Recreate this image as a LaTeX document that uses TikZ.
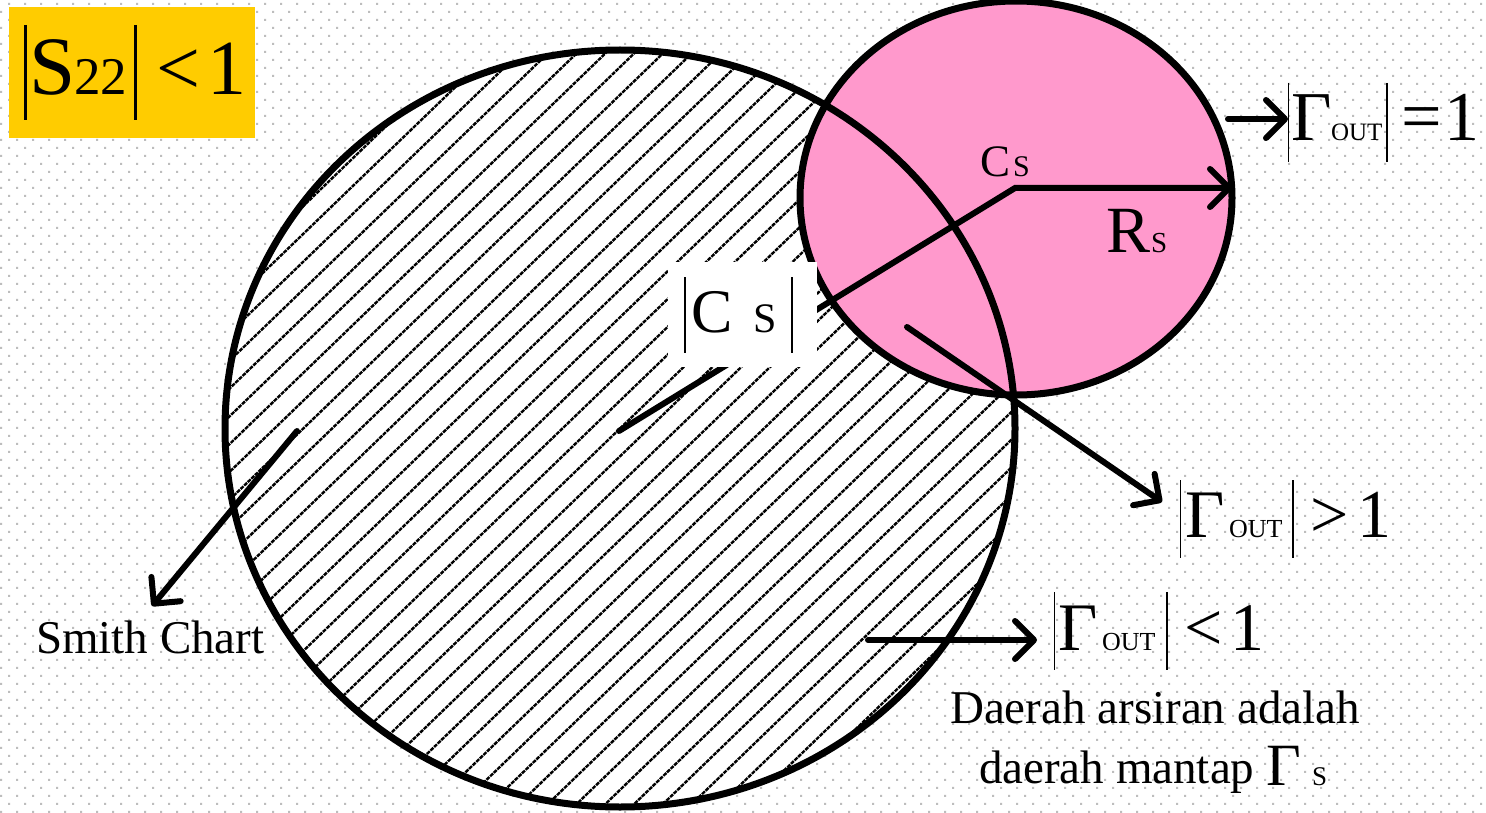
\documentclass[tikz,border=0pt]{standalone}
\usepackage{fontspec}
\setmainfont{Liberation Serif}
\usetikzlibrary{arrows.meta,patterns.meta}
\definecolor{ygold}{HTML}{FFCC00}
\definecolor{pinkc}{HTML}{FF99CC}
\definecolor{dotc}{HTML}{BDBDBD}
\newcommand\fsz[1]{\fontsize{#1}{#1}\selectfont}
\tikzdeclarepattern{
  name=bgdots,
  type=uncolored,
  bottom left={(-1pt,-1pt)},
  top right={(15pt,15pt)},
  tile size={(16pt,16pt)},
  code={
    \pgfpathrectangle{\pgfpoint{0pt}{0pt}}{\pgfpoint{2.2pt}{2.2pt}}
    \pgfpathrectangle{\pgfpoint{8pt}{8pt}}{\pgfpoint{2.2pt}{2.2pt}}
    \pgfusepath{fill}
  }
}
\begin{document}
\begin{tikzpicture}[x=1pt,y=-1pt,
  txt/.style={anchor=base west, inner sep=0pt, outer sep=0pt},
  outline/.style={line width=7pt},
  arr/.style={line width=6pt, line cap=round, -{Straight Barb[length=19pt,width=38pt,round]}},
  hatch/.style={line width=2.4pt, dash pattern=on 4pt off 1pt},
  absbar/.style={line width=1.6pt},
  bigbar/.style={line width=2.8pt}]
\useasboundingbox (0,0) rectangle (1486,813);
\fill[white] (0,0) rectangle (1486,813);
\fill[pattern=bgdots, pattern color=dotc] (0,0) rectangle (1486,813);

% Smith chart (hatched)
\fill[white] (620,428.5) ellipse [x radius=395pt, y radius=378.5pt];
\begin{scope}
  \clip (620,428.5) ellipse [x radius=395pt, y radius=378.5pt];
  \begin{scope}[shift={(620,428.5)}, rotate=44]
    \foreach \k in {-23,...,23} \draw[hatch] (-600,\k*20) -- (600,\k*20);
  \end{scope}
\end{scope}

% pink stability circle
\filldraw[fill=pinkc, outline] (1016,198) ellipse [x radius=216pt, y radius=197pt];
\draw[outline] (620,428.5) ellipse [x radius=395pt, y radius=378.5pt];

% centre line and radius
\coordinate (smithc) at (619,431);
\coordinate (csc) at (1015,188);
\coordinate (rsend) at (1232,188);
\draw[arr, line join=miter] (smithc) -- (csc) -- (rsend);

% |Cs| label
\node[fill=white, inner sep=0pt, minimum width=149pt, minimum height=105pt] (csbox) at (742.5,314.5) {};
\draw[bigbar] (685,277) -- (685,353);
\draw[bigbar] (792,277) -- (792,353);
\node[txt] (csC) at (691,332) {\fsz{62}C};
\node[txt] (csS) at (753,332) {\fsz{42}S};

% yellow box
\node[fill=ygold, inner sep=0pt, minimum width=246pt, minimum height=131pt, anchor=north west] (ybox) at (9,7) {};
\draw[line width=3pt] (25.5,25) -- (25.5,120);
\draw[line width=3pt] (135.5,25) -- (135.5,120);
\node[txt] (yS) at (29,95) {\fsz{83}S};
\node[txt] (y22) at (74,95) {\fsz{53}22};
\node[txt] (ylt) at (156,95) {\fsz{78}<};
\node[txt] (yone) at (207,95) {\fsz{78}1};

% Cs and Rs
\node[txt] (cC) at (980,177) {\fsz{45}C};
\node[txt] (cS) at (1013,177) {\fsz{30}S};
\node[txt] (rR) at (1106,252) {\fsz{66}R};
\node[txt] (rS) at (1151,252) {\fsz{29}S};

% |Gamma_OUT| = 1
\coordinate (g1a) at (1228,119);
\coordinate (g1b) at (1288,119);
\draw[arr] (g1a) -- (g1b);
\draw[absbar] (1288.5,83) -- (1288.5,162);
\draw[absbar] (1387,83) -- (1387,162);
\node[txt] (g1G) at (1291,141) {\fsz{70}Γ};
\node[txt] (g1O) at (1331,141) {\fsz{25}OUT};
\node[txt] (g1eq) at (1401,141) {\fsz{72}=};
\node[txt] (g1one) at (1444,141) {\fsz{70}1};

% |Gamma_OUT| > 1
\coordinate (g2a) at (907,327);
\coordinate (g2b) at (1162,502);
\draw[arr] (g2a) -- (g2b);
\draw[absbar] (1180.5,480) -- (1180.5,558);
\draw[absbar] (1293,480) -- (1293,558);
\node[txt] (g2G) at (1185,537) {\fsz{68}Γ};
\node[txt] (g2O) at (1229,537) {\fsz{26}OUT};
\node[txt] (g2gt) at (1310,537) {\fsz{68}>};
\node[txt] (g2one) at (1357,537) {\fsz{68}1};

% |Gamma_OUT| < 1
\coordinate (g3a) at (868,640);
\coordinate (g3b) at (1037,640);
\draw[arr] (g3a) -- (g3b);
\draw[absbar] (1054.5,592) -- (1054.5,670);
\draw[absbar] (1167,592) -- (1167,670);
\node[txt] (g3G) at (1058,650) {\fsz{68}Γ};
\node[txt] (g3O) at (1102,650) {\fsz{26}OUT};
\node[txt] (g3lt) at (1184,650) {\fsz{68}<};
\node[txt] (g3one) at (1230,650) {\fsz{68}1};

% description
\node[anchor=base, inner sep=0pt] (d1) at (1155,723) {\fsz{47}Daerah arsiran adalah};
\node[txt] (d2) at (979,783) {\fsz{47}daerah mantap};
\node[txt] (d2G) at (1266,785) {\fsz{60}Γ};
\node[txt] (d2S) at (1312,785) {\fsz{27}S};

% Smith chart label
\coordinate (sma) at (297,431);
\coordinate (smb) at (152,606);
\draw[arr] (sma) -- (smb);
\node[txt] (smlbl) at (36,653) {\fsz{47}Smith Chart};
\end{tikzpicture}
\end{document}
